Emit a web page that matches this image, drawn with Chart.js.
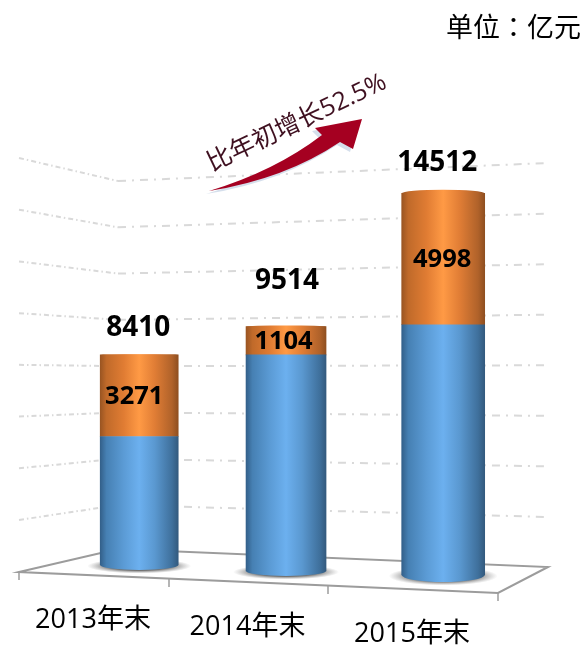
<!DOCTYPE html>
<html>
<head>
<meta charset="utf-8">
<style>
  html, body { margin: 0; padding: 0; background: #fff; }
  canvas { display: block; }
</style>
<script src="https://cdn.jsdelivr.net/npm/chart.js@4"></script>
</head>
<body>
<canvas id="chart" width="585" height="646"></canvas>
<script>
"use strict";

const categories = ["2013年末", "2014年末", "2015年末"];
const startValues = [5139, 8410, 9514];
const addedValues = [3271, 1104, 4998];
const totalValues = [8410, 9514, 14512];

// the original is a 3D picture, so every bar has its own position and scale
const xPositions = [0, 0.966, 2];
const barWidths = [78, 80, 83];
const basePixels = [565, 571, 575];
const pixelsPerUnit = [0.025, 0.0257, 0.0263];
const bottomCurve = [5, 5, 7];
const topCurve = [0.5, 1, 3.5];

const totalOffsets = [[-1, -27], [1, -45], [-6, -30]];
const addedOffsets = [[-5, 1], [-2.5, 1], [-1, 1]];

const gridCount = 8;
const wallLeft = [19, 158, 520];   // x, y of top line, y of bottom line
const wallKink = [118, 181, 505];
const wallRight = [548, 163, 517];
const floorTicks = [[19, 572], [169, 579], [328, 586], [498, 593]];
const labelRows = [620, 627, 634];

const blueStops = ["#33608a", "#4680b3", "#5b9bd5", "#6cb0ef", "#5a98d0", "#3f709c", "#335a7e"];
const orangeStops = ["#9a5522", "#c06a2a", "#e07c33", "#ff9a45", "#e07d35", "#b0622a", "#8f4f20"];
const stopPlaces = [0, 0.08, 0.3, 0.5, 0.7, 0.92, 1];

function cylinderFill(chart, i, stops) {
  if (!chart.chartArea) return stops[3];
  const center = chart.scales.x.getPixelForValue(xPositions[i]);
  const g = chart.ctx.createLinearGradient(center - barWidths[i] / 2, 0, center + barWidths[i] / 2, 0);
  stops.forEach((color, n) => g.addColorStop(stopPlaces[n], color));
  return g;
}

function drawGrid(ctx) {
  ctx.save();
  ctx.strokeStyle = "#d9d9d9";
  ctx.lineWidth = 2;
  for (let n = 0; n < gridCount; n++) {
    const t = n / (gridCount - 1);
    const yLeft = wallLeft[1] + (wallLeft[2] - wallLeft[1]) * t;
    const yKink = wallKink[1] + (wallKink[2] - wallKink[1]) * t;
    const yRight = wallRight[1] + (wallRight[2] - wallRight[1]) * t;
    ctx.setLineDash([5, 3, 1.5, 3]);
    ctx.beginPath();
    ctx.moveTo(wallLeft[0], yLeft);
    ctx.lineTo(wallKink[0], yKink);
    ctx.stroke();
    ctx.setLineDash([8, 6, 2, 6]);
    ctx.beginPath();
    ctx.moveTo(wallKink[0], yKink);
    ctx.lineTo(wallRight[0], yRight);
    ctx.stroke();
  }
  ctx.restore();
}

function drawFloor(ctx) {
  ctx.save();
  ctx.strokeStyle = "#9c9c9c";
  ctx.lineWidth = 2;
  ctx.fillStyle = "#fff";
  ctx.beginPath();
  ctx.moveTo(19, 572);
  ctx.lineTo(118, 549);
  ctx.lineTo(548, 567);
  ctx.lineTo(498, 593);
  ctx.closePath();
  ctx.fill();
  ctx.stroke();
  ctx.lineWidth = 1.5;
  floorTicks.forEach(t => {
    ctx.beginPath();
    ctx.moveTo(t[0], t[1]);
    ctx.lineTo(t[0], t[1] + 8);
    ctx.stroke();
  });
  ctx.restore();
}

function drawFootShadow(ctx, x, y, width, curve) {
  const rx = width / 2 + 13;
  const ry = curve + 2.5;
  ctx.save();
  ctx.translate(x, y + 1);
  ctx.scale(1, ry / rx);
  const g = ctx.createRadialGradient(0, 0, rx * 0.6, 0, 0, rx);
  g.addColorStop(0, "rgba(90,90,90,0.85)");
  g.addColorStop(1, "rgba(140,140,140,0)");
  ctx.fillStyle = g;
  ctx.beginPath();
  ctx.arc(0, 0, rx, 0, Math.PI * 2);
  ctx.fill();
  ctx.restore();
}

function drawArrow(ctx) {
  const outline = () => {
    ctx.beginPath();
    ctx.moveTo(209, 191);
    ctx.quadraticCurveTo(275, 171, 322, 135);
    ctx.lineTo(315, 128);
    ctx.lineTo(362, 119);
    ctx.lineTo(353, 149);
    ctx.lineTo(340, 142);
    ctx.quadraticCurveTo(285, 179, 209, 191);
    ctx.closePath();
  };
  ctx.save();
  ctx.translate(-3, 3);
  ctx.fillStyle = "#d5dfec";
  outline();
  ctx.fill();
  ctx.restore();
  ctx.save();
  ctx.fillStyle = "#a50021";
  outline();
  ctx.fill();
  ctx.restore();
}

const cylinderPlugin = {
  id: "cylinder",
  beforeDatasetsDraw(chart) {
    const ctx = chart.ctx;
    drawGrid(ctx);
    drawFloor(ctx);
    categories.forEach((name, i) => {
      const bar = chart.getDatasetMeta(i * 2).data[0];
      const x = bar.x;
      drawFootShadow(ctx, x, bar.base, bar.width, bottomCurve[i]);
      ctx.fillStyle = cylinderFill(chart, i, blueStops);
      ctx.beginPath();
      ctx.ellipse(x, bar.base, bar.width / 2, bottomCurve[i], 0, 0, Math.PI * 2);
      ctx.fill();
    });
  },
  afterDatasetsDraw(chart) {
    const ctx = chart.ctx;
    ctx.save();
    ctx.textAlign = "center";
    ctx.textBaseline = "middle";
    ctx.fillStyle = "#000";
    categories.forEach((name, i) => {
      const top = chart.getDatasetMeta(i * 2 + 1).data[0];
      ctx.fillStyle = cylinderFill(chart, i, orangeStops);
      ctx.beginPath();
      ctx.ellipse(top.x, top.y, top.width / 2, topCurve[i], 0, 0, Math.PI * 2);
      ctx.fill();

      ctx.fillStyle = "#000";
      ctx.font = 'bold 25.5px "Open Sans"';
      ctx.fillText(addedValues[i], top.x + addedOffsets[i][0], (top.y + top.base) / 2 + addedOffsets[i][1]);
      ctx.font = 'bold 28px "Open Sans"';
      ctx.fillText(totalValues[i], top.x + totalOffsets[i][0], top.y + totalOffsets[i][1]);

      ctx.font = '27px "Open Sans", "Noto Sans CJK SC"';
      ctx.fillText(name, (floorTicks[i][0] + floorTicks[i + 1][0]) / 2 - 1, labelRows[i]);
    });

    ctx.textAlign = "right";
    ctx.font = '27px "Noto Sans CJK TC"';
    ctx.fillText("单位：亿元", 581, 27);

    drawArrow(ctx);
    ctx.translate(297, 123);
    ctx.rotate(-25.5 * Math.PI / 180);
    ctx.textAlign = "center";
    ctx.fillStyle = "#3f1020";
    ctx.font = '25px "Open Sans", "Noto Sans CJK SC"';
    ctx.fillText("比年初增长52.5%", 0, 0);
    ctx.restore();
  }
};

// one start and one added dataset per bar, each pair stacked on its own y scale
const datasets = [];
const yScales = {};
categories.forEach((name, i) => {
  const yAxisID = "y" + i;
  const common = {
    xAxisID: "x",
    yAxisID,
    grouped: false,
    barThickness: barWidths[i],
    maxBarThickness: barWidths[i],
    barPercentage: 1,
    categoryPercentage: 1,
    borderWidth: 0
  };
  datasets.push({
    ...common,
    label: name + " 年初",
    data: [{ x: xPositions[i], y: startValues[i] }],
    backgroundColor: c => cylinderFill(c.chart, i, blueStops)
  });
  datasets.push({
    ...common,
    label: name + " 增长",
    data: [{ x: xPositions[i], y: addedValues[i] }],
    backgroundColor: c => cylinderFill(c.chart, i, orangeStops)
  });
  yScales[yAxisID] = {
    type: "linear",
    display: false,
    stacked: true,
    min: (basePixels[i] - 646) / pixelsPerUnit[i],
    max: basePixels[i] / pixelsPerUnit[i]
  };
});

new Chart(document.getElementById("chart"), {
  type: "bar",
  data: { datasets },
  options: {
    responsive: false,
    animation: false,
    layout: { padding: 0 },
    plugins: { legend: { display: false }, tooltip: { enabled: false } },
    scales: {
      x: { type: "linear", display: false, offset: false, min: -0.916, max: 2.933 },
      ...yScales
    }
  },
  plugins: [cylinderPlugin]
});
</script>
</body>
</html>
